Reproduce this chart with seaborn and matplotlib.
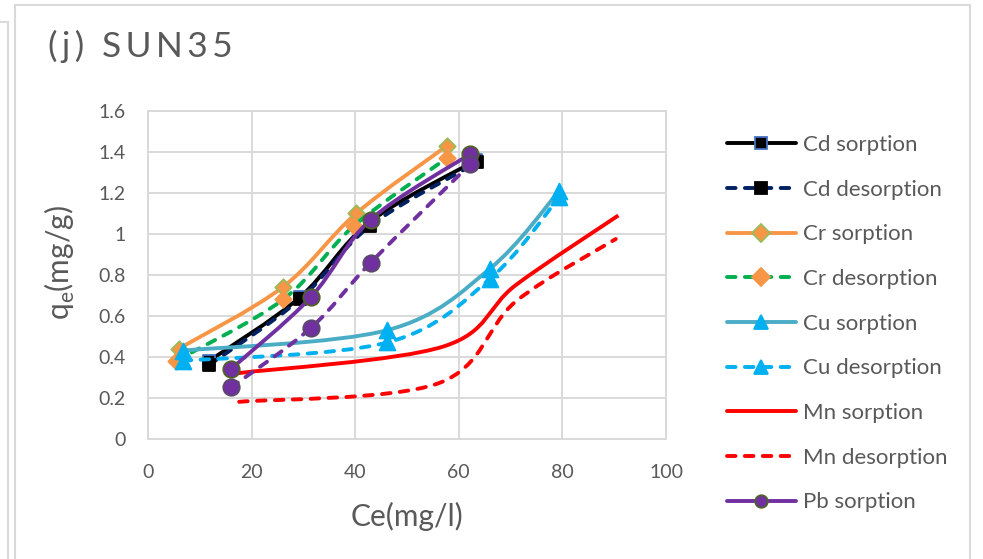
#!/usr/bin/env python3

import numpy as np
import matplotlib
matplotlib.use("Agg")
import matplotlib.pyplot as plt
import seaborn as sns
from matplotlib.path import Path
from matplotlib.patches import PathPatch, Rectangle
from matplotlib.lines import Line2D
from matplotlib.ticker import FuncFormatter

# values (Ce in mg/l, qe in mg/g)
cd_sorp_x = [11.8, 29.3, 42.9, 63.4]
cd_sorp_y = [0.38, 0.69, 1.06, 1.36]
cd_desorp_x = [11.8, 29.3, 42.9, 63.6]
cd_desorp_y = [0.36, 0.68, 1.04, 1.35]
cr_sorp_x = [6.0, 26.0, 40.2, 57.7]
cr_sorp_y = [0.44, 0.74, 1.10, 1.43]
cr_desorp_x = [5.4, 26.1, 39.8, 57.7]
cr_desorp_y = [0.38, 0.68, 1.04, 1.37]
cu_sorp_x = [6.7, 46.2, 66.0, 79.4]
cu_sorp_y = [0.43, 0.53, 0.83, 1.21]
cu_desorp_x = [6.7, 46.2, 66.0, 79.4]
cu_desorp_y = [0.38, 0.47, 0.78, 1.18]
mn_sorp_x = [17.4, 57.0, 71.0, 90.8]
mn_sorp_y = [0.32, 0.45, 0.75, 1.09]
mn_desorp_x = [17.6, 56.0, 71.0, 90.3]
mn_desorp_y = [0.18, 0.27, 0.67, 0.975]
pb_sorp_x = [16.0, 31.4, 43.0, 62.2]
pb_sorp_y = [0.34, 0.69, 1.07, 1.39]
pb_desorp_x = [16.0, 31.4, 43.0, 62.2]
pb_desorp_y = [0.25, 0.54, 0.86, 1.34]

x_ticks = [0, 20, 40, 60, 80, 100]
y_ticks = [0, 0.2, 0.4, 0.6, 0.8, 1.0, 1.2, 1.4, 1.6]

GREY = '#595959'
GRID = '#D9D9D9'
DASH = (0, (2.2, 2.4))

# label, x, y, line colour, dashed, marker, size, face, edge, in legend
series = [
    ("Cd sorption", cd_sorp_x, cd_sorp_y, 'black', False, 's', 80, 'black', '#4472C4', True),
    ("Cd desorption", cd_desorp_x, cd_desorp_y, '#002060', True, 's', 80, 'black', 'black', True),
    ("Cr sorption", cr_sorp_x, cr_sorp_y, '#F79646', False, 'D', 70, '#F79646', '#9BBB59', True),
    ("Cr desorption", cr_desorp_x, cr_desorp_y, '#00B050', True, 'D', 70, '#F79646', '#F79646', True),
    ("Cu sorption", cu_sorp_x, cu_sorp_y, '#4BACC6', False, '^', 130, '#00B0F0', '#00B0F0', True),
    ("Cu desorption", cu_desorp_x, cu_desorp_y, '#00B0F0', True, '^', 130, '#00B0F0', '#00B0F0', True),
    ("Mn sorption", mn_sorp_x, mn_sorp_y, '#FF0000', False, None, 0, None, None, True),
    ("Mn desorption", mn_desorp_x, mn_desorp_y, '#FF0000', True, None, 0, None, None, True),
    ("Pb sorption", pb_sorp_x, pb_sorp_y, '#7030A0', False, 'o', 140, '#7030A0', '#4F6228', True),
    ("Pb desorption", pb_desorp_x, pb_desorp_y, '#7030A0', True, 'o', 140, '#7030A0', '#5A4A6A', False),
]


def smooth_path(xs, ys):
    # Excel style smoothed line: Catmull-Rom segments as cubic Beziers
    pts = np.column_stack([xs, ys]).astype(float)
    n = len(pts)
    verts = [pts[0]]
    codes = [Path.MOVETO]
    for i in range(n - 1):
        p0 = pts[i - 1] if i > 0 else pts[i]
        p1 = pts[i]
        p2 = pts[i + 1]
        p3 = pts[i + 2] if i + 2 < n else pts[i + 1]
        verts += [p1 + (p2 - p0) / 6, p2 - (p3 - p1) / 6, p2]
        codes += [Path.CURVE4] * 3
    return Path(verts, codes)


def main():
    sns.set_theme(style="white")
    plt.rcParams['font.family'] = ['Lato', 'DejaVu Sans']

    fig = plt.figure(figsize=(9.83, 5.59), dpi=100)
    ax = fig.add_axes([148 / 983, 1 - 438.7 / 559, 518 / 983, 327.7 / 559])

    handles = []
    labels = []
    for k, (label, xs, ys, lc, dashed, mk, size, face, edge, in_leg) in enumerate(series):
        z = 3 + k
        patch = PathPatch(smooth_path(xs, ys), fill=False, edgecolor=lc, lw=2.8,
                          linestyle=DASH if dashed else '-',
                          capstyle='round' if dashed else 'butt', zorder=z)
        ax.add_patch(patch)
        if mk is not None:
            sns.scatterplot(x=xs, y=ys, marker=mk, s=size, color=face, edgecolor=edge,
                            linewidth=1.3, zorder=z + 0.5, ax=ax, legend=False)
        if in_leg:
            handles.append(Line2D([], [], color=lc, lw=2.8, linestyle=DASH if dashed else '-',
                                  dash_capstyle='round', marker=mk,
                                  markersize=9 if mk != '^' else 10,
                                  markerfacecolor=face, markeredgecolor=edge,
                                  markeredgewidth=1.3))
            labels.append(label)

    ax.set_xlim(0, 100)
    ax.set_ylim(0, 1.6)
    ax.set_xticks(x_ticks)
    ax.set_yticks(y_ticks)
    ax.yaxis.set_major_formatter(FuncFormatter(lambda v, p: '{:g}'.format(round(v, 2))))
    ax.grid(True, color=GRID, lw=1.4)
    ax.set_axisbelow(True)
    for sp in ax.spines.values():
        sp.set_color(GRID)
        sp.set_linewidth(1.4)
    ax.tick_params(length=0, labelsize=14, labelcolor=GREY)
    ax.tick_params(axis='y', pad=16)
    ax.tick_params(axis='x', pad=18)

    ax.set_xlabel('Ce(mg/l)', fontsize=21.5, color=GREY, labelpad=15)
    ax.set_ylabel('q$_\\mathregular{e}$(mg/g)', fontsize=21.5, color=GREY)
    ax.yaxis.set_label_coords(-0.137, 0.536)

    fig.text(48 / 983, 1 - 57 / 559, '(\u2009j\u2009)\u2009 \u2009S\u2009U\u2009N\u20093\u20095',
             fontsize=25.5, color=GREY, ha='left', va='baseline')

    fig.legend(handles, labels, loc='upper left', bbox_to_anchor=(727 / 983, 1 - 135 / 559),
               bbox_transform=fig.transFigure, frameon=False, fontsize=16,
               labelcolor=GREY, handlelength=3.1, handletextpad=0.3,
               labelspacing=1.11, borderpad=0, borderaxespad=0, numpoints=1)

    # chart area border and the edge of the neighbouring panel
    fig.add_artist(Rectangle((15 / 983, -0.05), 955 / 983, 1.05 - 5 / 559, fill=False,
                             edgecolor=GRID, lw=1.5, transform=fig.transFigure))
    fig.add_artist(Line2D([0, 8 / 983], [1 - 22 / 559] * 2, color=GRID, lw=1.5,
                          transform=fig.transFigure))
    fig.add_artist(Line2D([8 / 983] * 2, [1 - 22 / 559, 0], color=GRID, lw=1.5,
                          transform=fig.transFigure))

    fig.savefig('out.png', dpi=100, facecolor='white')


if __name__ == "__main__":
    main()
